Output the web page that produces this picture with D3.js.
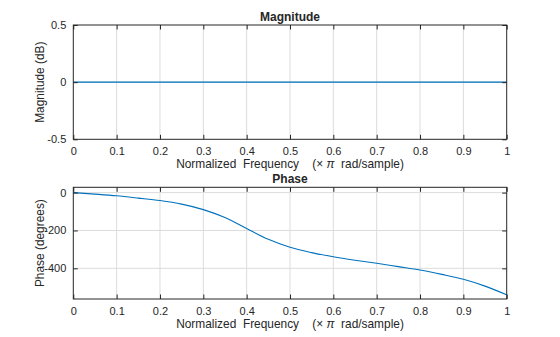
<!DOCTYPE html>
<html><head><meta charset="utf-8">
<script src="https://cdn.jsdelivr.net/npm/d3@7"></script>
<style>
body{margin:0;background:#fff;}
text{font-family:"Liberation Sans",Arial,Helvetica,sans-serif;fill:#262626;}
</style></head>
<body><svg id="c" width="560" height="337"></svg>
<script>
const freqs = [0,0.05,0.1,0.15,0.2,0.25,0.3,0.35,0.4,0.45,0.5,0.55,0.6,0.65,0.7,0.75,0.8,0.85,0.9,0.95,1.0];
const magnitudeDb = freqs.map(() => 0);
const phaseDeg = [0,-8,-17,-29,-42,-61,-90,-132,-190,-247,-289,-317,-339,-357,-373,-391,-409,-432,-458,-494,-540];
const xTicks = [0,0.1,0.2,0.3,0.4,0.5,0.6,0.7,0.8,0.9,1];
const magTicks = [-0.5,0,0.5];
const phaseTicks = [-400,-200,0];

const svg = d3.select("#c");
const L = 73.3, R = 506.7;
const x = d3.scaleLinear().domain([0,1]).range([L,R]);

function panel(top, bottom, ydom, yticks, data, title, ylabel) {
  const y = d3.scaleLinear().domain(ydom).range([bottom, top]);
  const g = svg.append("g");
  g.selectAll(".vg").data(xTicks.slice(1,-1)).join("line")
    .attr("x1", d=>x(d)).attr("x2", d=>x(d)).attr("y1", top).attr("y2", bottom)
    .attr("stroke", "#dcdcdc").attr("stroke-width", 1);
  g.selectAll(".hg").data(yticks.filter(d=>y(d)>top+1 && y(d)<bottom-1)).join("line")
    .attr("x1", L).attr("x2", R).attr("y1", d=>y(d)).attr("y2", d=>y(d))
    .attr("stroke", "#dcdcdc").attr("stroke-width", 1);
  g.append("path").datum(freqs.map((f,i)=>[f,data[i]]))
    .attr("fill","none").attr("stroke","#0072BD").attr("stroke-width",1.1)
    .attr("d", d3.line().x(d=>x(d[0])).y(d=>y(d[1])).curve(d3.curveMonotoneX));
  const tl = 4.5;
  const ax = d3.axisBottom(x).tickValues(xTicks).tickSize(-tl).tickPadding(8).tickFormat(d=>d===0?"0":(d===1?"1":d3.format(".1f")(d)));
  const gx = g.append("g").attr("transform",`translate(0,${bottom})`).call(ax);
  const gxt = g.append("g").attr("transform",`translate(0,${top})`).call(d3.axisTop(x).tickValues(xTicks).tickSize(-tl).tickFormat(""));
  const ay = d3.axisLeft(y).tickValues(yticks).tickSize(-tl).tickPadding(7).tickFormat(d=>d===0?"0":String(d));
  const gy = g.append("g").attr("transform",`translate(${L},0)`).call(ay);
  const gyr = g.append("g").attr("transform",`translate(${R},0)`).call(d3.axisRight(y).tickValues(yticks).tickSize(-tl).tickFormat(""));
  [gx,gxt,gy,gyr].forEach(a=>{
    a.select(".domain").remove();
    a.selectAll(".tick line").attr("stroke","#262626");
    a.selectAll("text").attr("font-size",11).attr("fill","#262626");
  });
  g.append("rect").attr("x",L).attr("y",top).attr("width",R-L).attr("height",bottom-top)
    .attr("fill","none").attr("stroke","#262626").attr("stroke-width",1);
  g.append("text").attr("x",(L+R)/2).attr("y",top-4).attr("text-anchor","middle")
    .attr("font-size",12).attr("font-weight","bold").attr("fill","#000").text(title);
  const xl = g.append("text").attr("x",(L+R)/2).attr("y",bottom+29).attr("text-anchor","middle")
    .attr("font-size",11.9).attr("xml:space","preserve");
  xl.append("tspan").text("Normalized  Frequency    (\u00d7 ");
  xl.append("tspan").attr("font-style","italic").text("\u03c0");
  xl.append("tspan").text("  rad/sample)");
  g.append("text").attr("transform",`translate(${L-29},${(top+bottom)/2}) rotate(-90)`)
    .attr("text-anchor","middle").attr("font-size",11.9).text(ylabel);
}

panel(25, 139.3, [-0.5,0.5], magTicks, magnitudeDb, "Magnitude", "Magnitude (dB)");
panel(187.3, 299, [-562,28], phaseTicks, phaseDeg, "Phase", "Phase (degrees)");
</script></body></html>
